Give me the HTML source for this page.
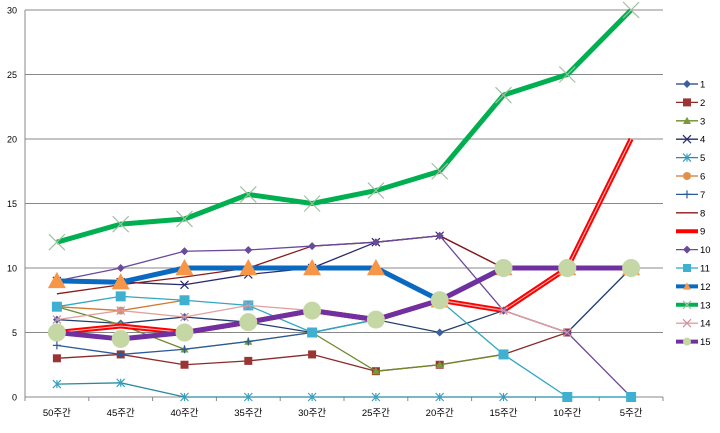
<!DOCTYPE html>
<html><head><meta charset="utf-8"><style>
body{margin:0;background:#fff}
svg{font-family:"Liberation Sans","Noto Sans CJK KR",sans-serif}
</style></head><body>
<svg id="c" width="720" height="428" viewBox="0 0 720 428" xmlns="http://www.w3.org/2000/svg"></svg>
<script>
const categories=["50주간","45주간","40주간","35주간","30주간","25주간","20주간","15주간","10주간","5주간"];
const yTicks=[0,5,10,15,20,25,30];
const seriesNames=["1","2","3","4","5","6","7","8","9","10","11","12","13","14","15"];
const s1=[6,5.7,6.2,5.8,5,6,5,6.7,5,10];
const s2=[3,3.3,2.5,2.8,3.3,2,2.5,3.3,5,null];
const s3=[7,5.6,3.7,4.3,5,2,2.5,3.3,null,null];
const s4=[9,8.9,8.7,9.5,10,12,12.5,10,null,null];
const s5=[1,1.1,0,0,0,0,0,0,0,0];
const s6=[7,6.7,7.5,null,null,null,null,null,null,null];
const s7=[4,3.3,3.7,4.3,5,6,7.5,null,null,null];
const s8=[8,8.7,9.3,10,11.7,12,12.5,10,10,10];
const s9=[5,5.5,5,5.8,6.7,6,7.5,6.7,10,20];
const s10=[9,10,11.3,11.4,11.7,12,12.5,6.7,5,0];
const s11=[7,7.8,7.5,7.1,5,6,7.5,3.3,0,0];
const s12=[9,8.9,10,10,10,10,7.5,10,10,10];
const s13=[12,13.4,13.8,15.7,15,16,17.5,23.4,25,30];
const s14=[6,6.7,6.2,7.1,6.7,6,7.5,6.7,5,null];
const s15=[5,4.5,5,5.8,6.7,6,7.5,10,10,10];
const seriesValues=[s1,s2,s3,s4,s5,s6,s7,s8,s9,s10,s11,s12,s13,s14,s15];
const styles=[
{c:"#1F3F6F",w:1.3,m:"diamond",mc:"#3C5FA0",ms:4},
{c:"#8B2A2A",w:1.3,m:"square",mc:"#9B3535",ms:4},
{c:"#6F8A2A",w:1.3,m:"triangle",mc:"#7A9A3A",ms:4},
{c:"#2A2A6F",w:1.3,m:"x",mc:"#2A2A6F",ms:4},
{c:"#2A8AA0",w:1.3,m:"star",mc:"#3AA0C0",ms:4},
{c:"#D07A30",w:1.3,m:"circle",mc:"#E0904A",ms:4},
{c:"#2A5A9A",w:1.3,m:"plus",mc:"#2A5A9A",ms:4},
{c:"#8B1A1A",w:1.3,m:"none"},
{c:"#FF0000",w:5,m:"none"},
{c:"#6A4A9A",w:1.3,m:"diamond",mc:"#6A4A9A",ms:4},
{c:"#30A8C0",w:1.3,m:"square",mc:"#40B0D0",ms:5},
{c:"#0A6AC0",w:5,m:"triangle",mc:"#F79646",ms:9},
{c:"#00B050",w:5,m:"x",mc:"#A0C0A0",ms:8},
{c:"#E0A0A0",w:1.3,m:"x",mc:"#D090A0",ms:4},
{c:"#7030A0",w:5,m:"circle",mc:"#C4D7A4",ms:9}];
const svg=document.getElementById('c');
const NS="http://www.w3.org/2000/svg";
const L=25,R=663,T=10,B=397,ymax=30;
const cw=(R-L)/categories.length;
const xS=i=>L+cw*(i+0.5);
const yS=v=>B-(v/ymax)*(B-T);
function mk(t,a,p){const e=document.createElementNS(NS,t);for(const k in a)e.setAttribute(k,a[k]);(p||svg).appendChild(e);return e;}
yTicks.forEach(v=>{
 const g=mk('line',{x1:L,x2:R,y1:yS(v),y2:yS(v),stroke:v===0?'#888':'#888','stroke-width':1});
 
 
 const t=mk('text',{x:L-8,y:yS(v)+3.5,'font-size':9,'text-anchor':'end',fill:'#000'});t.textContent=v;
 
 
});
mk('line',{x1:L,x2:L,y1:T,y2:B,stroke:'#888'});
categories.forEach((c,i)=>{
 mk('line',{x1:L+cw*i,x2:L+cw*i,y1:B,y2:B+4,stroke:'#888'});
 const t=mk('text',{x:xS(i),y:416,'font-size':9.5,'text-anchor':'middle',fill:'#000'});t.textContent=c;
 
 
});
mk('line',{x1:R,x2:R,y1:B,y2:B+4,stroke:'#888'});
function marker(g,type,x,y,s,col){
 if(type==='none')return;
 if(type==='diamond')mk('polygon',{points:`${x},${y-s} ${x+s},${y} ${x},${y+s} ${x-s},${y}`,fill:col},g);
 else if(type==='square')mk('rect',{x:x-s,y:y-s,width:2*s,height:2*s,fill:col},g);
 else if(type==='triangle')mk('polygon',{points:`${x},${y-s} ${x+s},${y+s*0.8} ${x-s},${y+s*0.8}`,fill:col},g);
 else if(type==='circle')mk('circle',{cx:x,cy:y,r:s,fill:col},g);
 else if(type==='x'){mk('path',{d:`M${x-s} ${y-s}L${x+s} ${y+s}M${x+s} ${y-s}L${x-s} ${y+s}`,stroke:col,'stroke-width':1.2},g);}
 else if(type==='star'){mk('path',{d:`M${x-s} ${y-s}L${x+s} ${y+s}M${x+s} ${y-s}L${x-s} ${y+s}M${x} ${y-s}L${x} ${y+s}`,stroke:col,'stroke-width':1.2},g);}
 else if(type==='plus'){mk('path',{d:`M${x-s} ${y}L${x+s} ${y}M${x} ${y-s}L${x} ${y+s}`,stroke:col,'stroke-width':1.2},g);}
}
seriesValues.forEach((vals,si)=>{
 const st=styles[si];
 const g=mk('g',{});
 
 
 let d='',pen=false;
 vals.forEach((v,i)=>{if(v==null){pen=false;return;}d+=(pen?'L':'M')+xS(i)+' '+yS(v);pen=true;});
 mk('path',{d:d,fill:'none',stroke:st.c,'stroke-width':st.w,'stroke-linejoin':'round'},g);
 if(si===8)mk('path',{d:d,fill:'none',stroke:'#FFC0C0','stroke-width':1},g);
 vals.forEach((v,i)=>{if(v!=null)marker(g,st.m,xS(i),yS(v),st.ms,st.mc);});
});
seriesNames.forEach((n,i)=>{
 const y=84+i*18.4,st=styles[i];
 const g=mk('g',{});
 
 
 mk('line',{x1:676,x2:698,y1:y,y2:y,stroke:st.c,'stroke-width':Math.min(st.w,4)},g);
 marker(g,st.m,687,y,Math.min(st.ms||0,4),st.mc);
 const t=mk('text',{x:700,y:y+3.5,'font-size':9.5,fill:'#000'},g);t.textContent=n;
});
</script>
</body></html>
